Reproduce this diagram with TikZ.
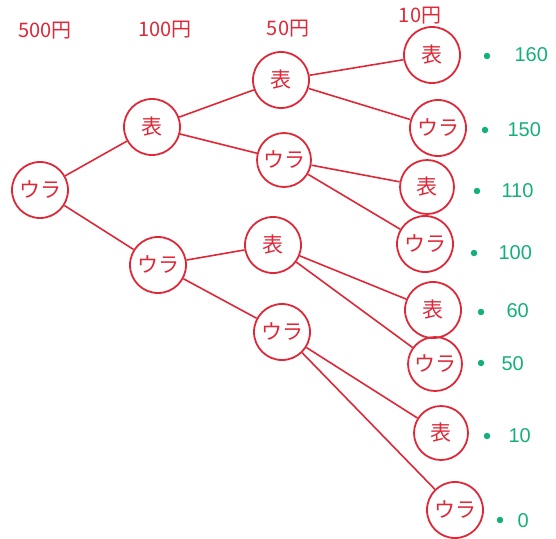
\documentclass[tikz,border=0pt]{standalone}
\usepackage{fontspec}
\newfontfamily\cjk{Noto Sans CJK JP}
\setmainfont{Liberation Sans}
\definecolor{penred}{RGB}{222,40,55}
\definecolor{pengreen}{RGB}{20,175,125}
\tikzset{
  coin/.style={circle, draw=penred, line width=1.8pt, minimum size=56pt, inner sep=0pt, text=penred, font=\cjk\fontsize{21}{23}\selectfont},
  edge/.style={draw=penred, line width=1.6pt},
  header/.style={text=penred, font=\cjk\fontsize{20}{22}\selectfont},
  val/.style={text=pengreen, font=\fontsize{20}{22}\selectfont, anchor=west},
  dotm/.style={circle, fill=pengreen, inner sep=0pt, minimum size=6.5pt}
}
\begin{document}
\begin{tikzpicture}[x=1pt,y=-1pt]
\useasboundingbox (0,0) rectangle (556,538);
% headers
\node[header] (h500) at (45,31) {500円};
\node[header] (h100) at (165,30) {100円};
\node[header] (h50) at (288,29) {50円};
\node[header] (h10) at (420,16) {10円};
% nodes
\node[coin] (r) at (40,190) {ウラ};
\node[coin] (a) at (152,127) {表};
\node[coin] (b) at (158,265) {ウラ};
\node[coin] (aa) at (281,80) {表};
\node[coin, minimum size=54pt] (ab) at (284,160) {ウラ};
\node[coin] (ba) at (273,245) {表};
\node[coin] (bb) at (282,332) {ウラ};
\node[coin] (aaa) at (432,55) {表};
\node[coin] (aab) at (438,128) {ウラ};
\node[coin, minimum size=54pt] (aba) at (427,187) {表};
\node[coin] (abb) at (425,244) {ウラ};
\node[coin] (baa) at (433,310) {表};
\node[coin, minimum size=54pt] (bab) at (435,364) {ウラ};
\node[coin, minimum size=54pt] (bba) at (441,433) {表};
\node[coin] (bbb) at (455,510) {ウラ};
% edges
\draw[edge] (r) -- (a);
\draw[edge] (r) -- (b);
\draw[edge] (a) -- (aa);
\draw[edge] (a) -- (ab);
\draw[edge] (b) -- (ba);
\draw[edge] (b) -- (bb);
\draw[edge] (aa) -- (aaa);
\draw[edge] (aa) -- (aab);
\draw[edge] (ab) -- (aba);
\draw[edge] (ab) -- (abb);
\draw[edge] (ba) -- (baa);
\draw[edge] (ba) -- (bab);
\draw[edge] (bb) -- (bba);
\draw[edge] (bb) -- (bbb);
% values
\node[dotm] (d1) at (487,56) {};  \node[val] (v1) at (511,55) {160};
\node[dotm] (d2) at (485,130) {}; \node[val] (v2) at (504,130) {150};
\node[dotm] (d3) at (477,191) {}; \node[val] (v3) at (498,191) {110};
\node[dotm] (d4) at (474,253) {}; \node[val] (v4) at (495,253) {100};
\node[dotm] (d5) at (481,312) {}; \node[val] (v5) at (503,311) {60};
\node[dotm] (d6) at (481,363) {}; \node[val] (v6) at (498,364) {50};
\node[dotm] (d7) at (487,436) {}; \node[val] (v7) at (505,436) {10};
\node[dotm] (d8) at (500,520) {}; \node[val] (v8) at (514,521) {0};
\end{tikzpicture}
\end{document}
